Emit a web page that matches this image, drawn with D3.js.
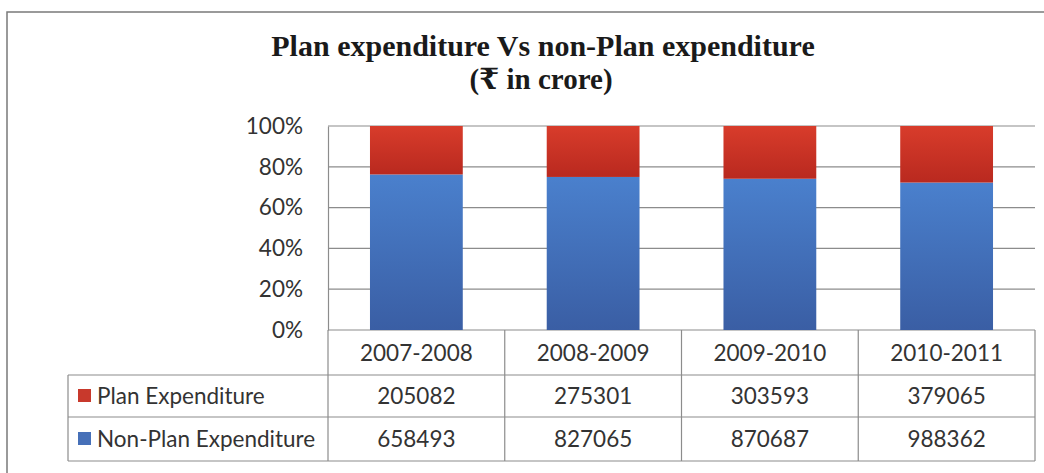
<!DOCTYPE html>
<html>
<head>
<meta charset="utf-8">
<script src="https://cdnjs.cloudflare.com/ajax/libs/d3/7.8.5/d3.min.js"></script>
<style>
  body { margin: 0; background: #fff; }
  svg text { font-family: Lato, "Open Sans", sans-serif; }
</style>
</head>
<body>
<div id="chart"></div>
<script>
// data
var years = ["2007-2008", "2008-2009", "2009-2010", "2010-2011"];
var planExp = [205082, 275301, 303593, 379065];
var nonPlanExp = [658493, 827065, 870687, 988362];
var seriesNames = ["Plan Expenditure", "Non-Plan Expenditure"];
var yTicks = [0, 0.2, 0.4, 0.6, 0.8, 1];

var width = 1044, height = 473;
var plotLeft = 328, plotRight = 1035, plotTop = 126, plotBottom = 330;
var rowH = [45, 42, 44];
var legendLeft = 68;
var fontSize = "22.5px";

var svg = d3.select("#chart").append("svg")
    .attr("width", width)
    .attr("height", height);

// gradients for the bars
var defs = svg.append("defs");
function grad(id, c1, c2) {
  var g = defs.append("linearGradient").attr("id", id)
      .attr("x1", 0).attr("y1", 0).attr("x2", 0).attr("y2", 1);
  g.append("stop").attr("offset", "0%").attr("stop-color", c1);
  g.append("stop").attr("offset", "100%").attr("stop-color", c2);
}
grad("gRed", "#d83c2b", "#b9291f");
grad("gBlue", "#4a80cd", "#3a5ea4");

// outer frame
svg.append("rect")
    .attr("x", 7).attr("y", 12)
    .attr("width", 1100).attr("height", 500)
    .attr("fill", "none")
    .attr("stroke", "#7a7a7a")
    .attr("stroke-width", 1.5);

// title
svg.append("text")
    .attr("x", 543).attr("y", 56)
    .attr("text-anchor", "middle")
    .style("font-family", "'Liberation Serif', 'Times New Roman', serif")
    .style("font-weight", "bold")
    .style("font-size", "30px")
    .attr("fill", "#1a1a1a")
    .text("Plan expenditure Vs non-Plan expenditure");
svg.append("text")
    .attr("x", 541).attr("y", 89)
    .attr("text-anchor", "middle")
    .style("font-family", "'Liberation Serif', 'DejaVu Serif', serif")
    .style("font-weight", "bold")
    .style("font-size", "29px")
    .attr("fill", "#1a1a1a")
    .text("(\u20B9 in crore)");

// scales
var xScale = d3.scaleBand()
    .domain(years)
    .range([plotLeft, plotRight])
    .padding(0);

var yScale = d3.scaleLinear()
    .domain([0, 1])
    .range([plotBottom, plotTop]);

// gridlines
svg.append("g")
    .selectAll("line")
    .data(yTicks)
    .enter()
    .append("line")
    .attr("x1", plotLeft).attr("x2", plotRight)
    .attr("y1", function(d){ return yScale(d); })
    .attr("y2", function(d){ return yScale(d); })
    .attr("stroke", "#8c8c8c")
    .attr("stroke-width", 1.2);

// y axis
var yAxis = d3.axisLeft(yScale)
    .tickValues(yTicks)
    .tickSize(0)
    .tickPadding(25)
    .tickFormat(d3.format(".0%"));

var yG = svg.append("g")
    .attr("transform", "translate(" + plotLeft + ",0)")
    .call(yAxis);
yG.select(".domain").attr("stroke", "#8c8c8c").attr("stroke-width", 1.2);
yG.selectAll("text")
    .style("font-size", fontSize)
    .attr("fill", "#333");

// stacked percent bars
var rows = years.map(function(y, i){
  return { year: y, plan: planExp[i], nonPlan: nonPlanExp[i] };
});
var stack = d3.stack()
    .keys(["nonPlan", "plan"])
    .offset(d3.stackOffsetExpand);
var stacked = stack(rows);
var fills = { nonPlan: "url(#gBlue)", plan: "url(#gRed)" };
var barW = xScale.bandwidth() * 0.525;

svg.append("g")
    .selectAll("g")
    .data(stacked)
    .enter()
    .append("g")
    .attr("fill", function(d){ return fills[d.key]; })
    .selectAll("rect")
    .data(function(d){ return d; })
    .enter()
    .append("rect")
    .attr("x", function(d){ return xScale(d.data.year) + (xScale.bandwidth() - barW) / 2; })
    .attr("width", barW)
    .attr("y", function(d){ return yScale(d[1]); })
    .attr("height", function(d){ return yScale(d[0]) - yScale(d[1]); });

// data table
var tableLines = "#8c8c8c";
var y0 = plotBottom, y1 = y0 + rowH[0], y2 = y1 + rowH[1], y3 = y2 + rowH[2];
var t = svg.append("g").attr("stroke", tableLines).attr("stroke-width", 1.2).attr("fill", "none");

t.append("line").attr("x1", legendLeft).attr("x2", plotRight).attr("y1", y1).attr("y2", y1);
t.append("line").attr("x1", legendLeft).attr("x2", plotRight).attr("y1", y2).attr("y2", y2);
t.append("line").attr("x1", legendLeft).attr("x2", plotRight).attr("y1", y3).attr("y2", y3);
t.append("line").attr("x1", legendLeft).attr("x2", legendLeft).attr("y1", y1).attr("y2", y3);
t.append("line").attr("x1", plotLeft).attr("x2", plotLeft).attr("y1", y0).attr("y2", y3);
t.selectAll(".vcol")
    .data(years)
    .enter()
    .append("line")
    .attr("x1", function(d){ return xScale(d) + xScale.bandwidth(); })
    .attr("x2", function(d){ return xScale(d) + xScale.bandwidth(); })
    .attr("y1", y0).attr("y2", y3);

// header labels
svg.append("g")
    .selectAll("text")
    .data(years)
    .enter()
    .append("text")
    .attr("x", function(d){ return xScale(d) + xScale.bandwidth() / 2; })
    .attr("y", y0 + rowH[0] / 2 + 8)
    .attr("text-anchor", "middle")
    .style("font-size", fontSize)
    .attr("fill", "#333")
    .text(function(d){ return d; });

// value rows
var tableRows = [
  { name: seriesNames[0], values: planExp, color: "#c8392c", y: y1 + rowH[1] / 2 },
  { name: seriesNames[1], values: nonPlanExp, color: "#4670b8", y: y2 + rowH[2] / 2 }
];

tableRows.forEach(function(r){
  svg.append("rect")
      .attr("x", 78).attr("y", r.y - 7)
      .attr("width", 13).attr("height", 13)
      .attr("fill", r.color);
  svg.append("text")
      .attr("x", 97).attr("y", r.y + 8)
      .style("font-size", fontSize)
      .attr("fill", "#333")
      .text(r.name);
  svg.append("g")
      .selectAll("text")
      .data(r.values)
      .enter()
      .append("text")
      .attr("x", function(d, i){ return xScale(years[i]) + xScale.bandwidth() / 2; })
      .attr("y", r.y + 8)
      .attr("text-anchor", "middle")
      .style("font-size", fontSize)
      .attr("fill", "#333")
      .text(function(d){ return d; });
});
</script>
</body>
</html>
